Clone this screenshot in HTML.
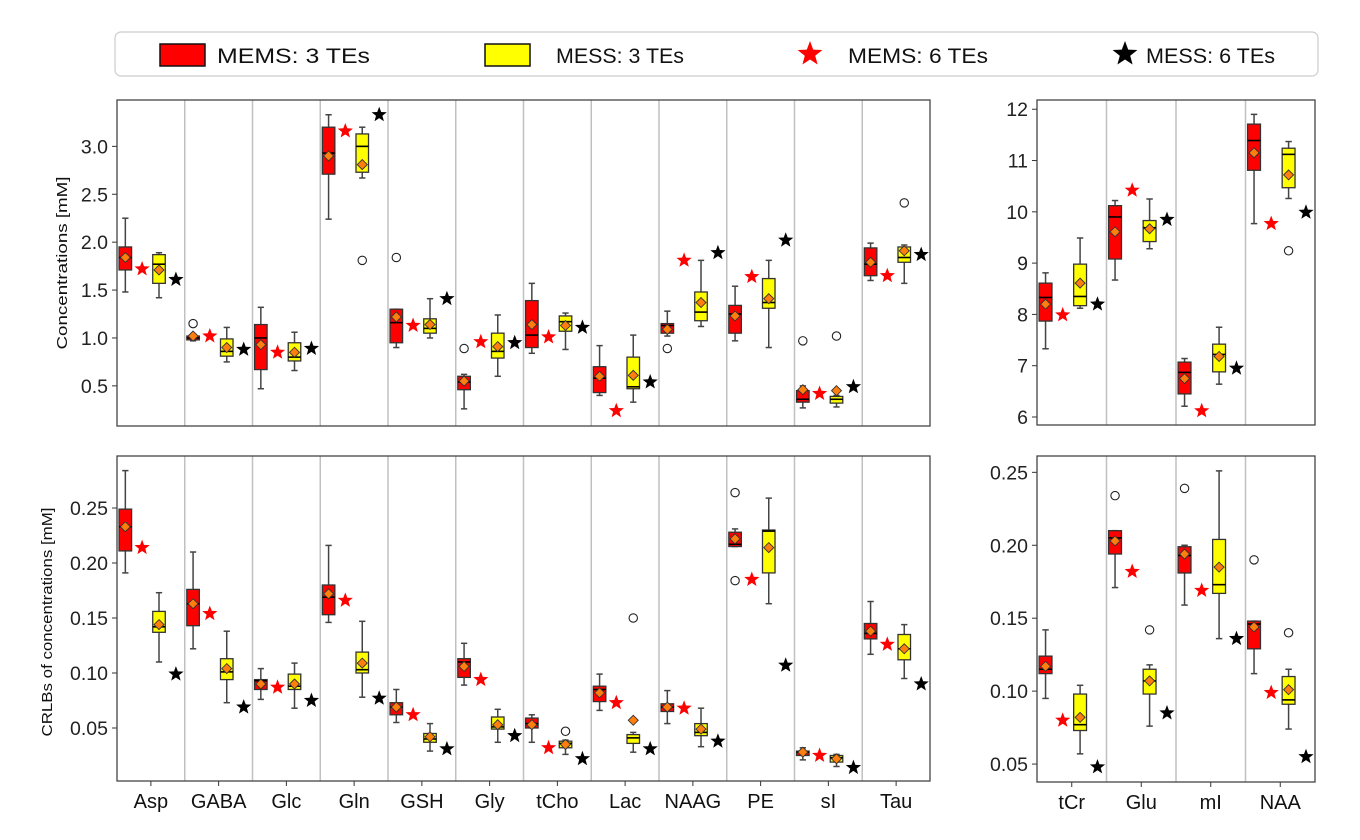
<!DOCTYPE html>
<html><head><meta charset="utf-8"><style>
html,body{margin:0;padding:0;background:#fff;}
svg{display:block;font-family:"Liberation Sans",sans-serif;}
</style></head><body>
<svg id="chart" width="1360" height="840" viewBox="0 0 1360 840" xmlns="http://www.w3.org/2000/svg">
<g id="legend">
<rect x="115" y="32" width="1203" height="44" rx="6" fill="#fff" stroke="#ccc" stroke-width="1.2"/>
<g><rect x="160" y="44" width="45" height="22" fill="#f00" stroke="#111" stroke-width="1.5"/><text x="217" y="63" font-size="21" textLength="153" lengthAdjust="spacingAndGlyphs" fill="#111">MEMS: 3 TEs</text></g>
<g><rect x="485" y="44" width="45" height="22" fill="#ff0" stroke="#111" stroke-width="1.5"/><text x="556" y="63" font-size="21" textLength="128" lengthAdjust="spacingAndGlyphs" fill="#111">MESS: 3 TEs</text></g>
<g id="lgs1"><text x="848" y="63" font-size="21" textLength="140" lengthAdjust="spacingAndGlyphs" fill="#111">MEMS: 6 TEs</text></g>
<g id="lgs2"><text x="1146" y="63" font-size="21" textLength="129" lengthAdjust="spacingAndGlyphs" fill="#111">MESS: 6 TEs</text></g>
</g>
<text transform="translate(67,263) rotate(-90)" text-anchor="middle" font-size="15" textLength="173" lengthAdjust="spacingAndGlyphs" fill="#111">Concentrations [mM]</text>
<text transform="translate(52,622) rotate(-90)" text-anchor="middle" font-size="15" textLength="229" lengthAdjust="spacingAndGlyphs" fill="#111">CRLBs of concentrations [mM]</text>
</svg>
<script>
// ---- data: [whiskerLow, q1, median, q3, whiskerHigh, mean]
const leftCats=["Asp","GABA","Glc","Gln","GSH","Gly","tCho","Lac","NAAG","PE","sI","Tau"];
const rightCats=["tCr","Glu","mI","NAA"];

const concLeftMems=[[1.48,1.71,1.84,1.95,2.25,1.84],[0.97,0.98,1.0,1.02,1.03,1.02],[0.47,0.67,1.0,1.14,1.32,0.93],[2.24,2.71,2.93,3.20,3.33,2.90],[0.90,0.95,1.16,1.30,1.30,1.22],[0.26,0.46,0.54,0.60,0.62,0.55],[0.84,0.90,1.03,1.39,1.57,1.14],[0.40,0.43,0.58,0.70,0.92,0.60],[1.02,1.05,1.13,1.15,1.28,1.09],[0.97,1.05,1.25,1.34,1.54,1.23],[0.27,0.33,0.36,0.45,0.50,0.46],[1.60,1.65,1.77,1.94,1.99,1.79]];
const concLeftMemsOut=[[],[1.15],[],[],[1.84],[0.89],[],[],[0.89],[],[0.97],[]];
const concLeftMess=[[1.42,1.57,1.77,1.87,1.89,1.71],[0.75,0.81,0.86,0.99,1.11,0.90],[0.66,0.76,0.80,0.95,1.06,0.85],[2.67,2.73,3.00,3.13,3.20,2.81],[1.0,1.05,1.10,1.20,1.41,1.14],[0.60,0.79,0.86,1.05,1.24,0.91],[0.88,1.07,1.17,1.23,1.26,1.13],[0.33,0.47,0.49,0.80,1.03,0.61],[1.12,1.18,1.27,1.48,1.81,1.37],[0.90,1.31,1.37,1.62,1.81,1.41],[0.28,0.32,0.36,0.39,0.40,0.45],[1.57,1.79,1.84,1.95,1.97,1.91]];
const concLeftMessOut=[[],[],[],[1.81],[],[],[],[],[],[],[1.02],[2.41]];
const concLeftMems6=[1.72,1.02,0.85,3.16,1.13,0.96,1.01,0.24,1.81,1.64,0.42,1.65];
const concLeftMess6=[1.61,0.88,0.89,3.33,1.41,0.95,1.11,0.54,1.89,2.02,0.49,1.87];
const concLeftTicks=[0.5,1.0,1.5,2.0,2.5,3.0];

const crlbLeftMems=[[0.191,0.211,0.233,0.249,0.284,0.233],[0.122,0.143,0.163,0.176,0.210,0.163],[0.076,0.085,0.093,0.094,0.104,0.090],[0.146,0.153,0.169,0.180,0.216,0.172],[0.055,0.062,0.069,0.073,0.085,0.069],[0.089,0.096,0.110,0.113,0.127,0.106],[0.037,0.050,0.054,0.059,0.062,0.053],[0.066,0.074,0.085,0.088,0.099,0.082],[0.054,0.065,0.069,0.072,0.084,0.069],[0.215,0.215,0.217,0.228,0.231,0.222],[0.021,0.025,0.028,0.029,0.032,0.028],[0.117,0.131,0.136,0.145,0.165,0.138]];
const crlbLeftMemsOut=[[],[],[],[],[],[],[],[],[],[0.264,0.184],[],[]];
const crlbLeftMess=[[0.110,0.137,0.142,0.156,0.173,0.144],[0.073,0.094,0.101,0.113,0.138,0.104],[0.068,0.085,0.088,0.099,0.109,0.090],[0.078,0.100,0.103,0.119,0.147,0.109],[0.029,0.037,0.040,0.045,0.054,0.042],[0.037,0.049,0.051,0.060,0.067,0.053],[0.026,0.032,0.036,0.038,0.039,0.035],[0.028,0.036,0.041,0.044,0.046,0.057],[0.033,0.043,0.046,0.054,0.068,0.049],[0.163,0.191,0.229,0.230,0.259,0.214],[0.015,0.019,0.023,0.025,0.026,0.022],[0.095,0.112,0.122,0.135,0.144,0.122]];
const crlbLeftMessOut=[[],[],[],[],[],[],[0.047],[0.150],[],[],[],[]];
const crlbLeftMems6=[0.214,0.154,0.087,0.166,0.062,0.094,0.032,0.073,0.068,0.185,0.025,0.126];
const crlbLeftMess6=[0.099,0.069,0.075,0.077,0.031,0.043,0.022,0.031,0.038,0.107,0.014,0.090];
const crlbLeftTicks=[0.05,0.10,0.15,0.20,0.25];

const concRightMems=[[7.33,7.87,8.33,8.61,8.81,8.20],[8.67,9.08,9.90,10.12,10.22,9.61],[6.21,6.45,6.87,7.07,7.14,6.75],[9.77,10.81,11.39,11.71,11.90,11.15]];
const concRightMemsOut=[[],[],[],[]];
const concRightMess=[[8.12,8.17,8.35,8.98,9.49,8.61],[9.28,9.42,9.69,9.83,10.25,9.67],[6.64,6.88,7.22,7.42,7.75,7.18],[10.26,10.47,11.12,11.24,11.37,10.72]];
const concRightMessOut=[[],[],[],[9.24]];
const concRightMems6=[7.99,10.42,6.12,9.77];
const concRightMess6=[8.20,9.85,6.95,9.99];
const concRightTicks=[6,7,8,9,10,11,12];

const crlbRightMems=[[0.095,0.112,0.115,0.124,0.142,0.117],[0.171,0.194,0.205,0.210,0.210,0.203],[0.159,0.181,0.193,0.199,0.200,0.194],[0.112,0.129,0.146,0.148,0.148,0.144]];
const crlbRightMemsOut=[[],[0.234],[0.239],[0.190]];
const crlbRightMess=[[0.057,0.073,0.077,0.098,0.104,0.082],[0.076,0.098,0.107,0.115,0.118,0.107],[0.136,0.167,0.173,0.204,0.251,0.185],[0.074,0.091,0.094,0.110,0.115,0.101]];
const crlbRightMessOut=[[],[0.142],[],[0.140]];
const crlbRightMems6=[0.080,0.182,0.169,0.099];
const crlbRightMess6=[0.048,0.085,0.136,0.055];
const crlbRightTicks=[0.05,0.10,0.15,0.20,0.25];

const NS="http://www.w3.org/2000/svg";
const svg=document.getElementById('chart');
function mk(tag,attrs,parent){const e=document.createElementNS(NS,tag);for(const k in attrs)e.setAttribute(k,attrs[k]);(parent||svg).appendChild(e);return e;}
function starPts(cx,cy,R){const r=R*0.42;let p=[];for(let i=0;i<10;i++){const a=-Math.PI/2+i*Math.PI/5;const rr=i%2?r:R;p.push((cx+rr*Math.cos(a)).toFixed(1)+','+(cy+rr*Math.sin(a)).toFixed(1));}return p.join(' ');}

let ls1=mk('polygon',{points:starPts(810,54,13),fill:'#f00'},document.getElementById('lgs1'));


let ls2=mk('polygon',{points:starPts(1125,54,13),fill:'#000'},document.getElementById('lgs2'));



function panel(name,cfg){
  const g=mk('g',{});
  
  
  const {x0,x1,y0,y1,vmin,vmax,cats,mems,memsOut,mess,messOut,mems6,mess6,ticks,fmt,showX}=cfg;
  const yS=v=>y1-(v-vmin)/(vmax-vmin)*(y1-y0);
  const gw=(x1-x0)/cats.length;
  for(let i=1;i<cats.length;i++){const d=mk('line',{x1:x0+i*gw,x2:x0+i*gw,y1:y0,y2:y1,stroke:'#c0c0c0','stroke-width':1.5},g);
    
    }
  ticks.forEach(t=>{const y=yS(t);mk('line',{x1:x0-5,x2:x0,y1:y,y2:y,stroke:'#333'},g);
    const tx=mk('text',{x:x0-9,y:y+7,'text-anchor':'end','font-size':19.5,fill:'#222'},g);tx.textContent=fmt(t);
    
    });
  const bw=gw*0.185;
  function box(cx,s,color,outs,label){
    const bg=mk('g',{},g);
    
    
    const [lo,q1,md,q3,hi,mn]=s;
    mk('line',{x1:cx,x2:cx,y1:yS(hi),y2:yS(q3),stroke:'#444','stroke-width':1.5},bg);
    mk('line',{x1:cx,x2:cx,y1:yS(q1),y2:yS(lo),stroke:'#444','stroke-width':1.5},bg);
    mk('line',{x1:cx-bw/4,x2:cx+bw/4,y1:yS(hi),y2:yS(hi),stroke:'#444','stroke-width':1.5},bg);
    mk('line',{x1:cx-bw/4,x2:cx+bw/4,y1:yS(lo),y2:yS(lo),stroke:'#444','stroke-width':1.5},bg);
    mk('rect',{x:cx-bw/2,y:yS(q3),width:bw,height:Math.max(1,yS(q1)-yS(q3)),fill:color,stroke:'#333','stroke-width':1.3},bg);
    mk('line',{x1:cx-bw/2,x2:cx+bw/2,y1:yS(md),y2:yS(md),stroke:'#000','stroke-width':1.6},bg);
    const m=yS(mn),d=5;
    mk('polygon',{points:`${cx},${m-d} ${cx+d},${m} ${cx},${m+d} ${cx-d},${m}`,fill:'#ff7f0e',stroke:'#333','stroke-width':0.9},bg);
    outs.forEach(o=>mk('circle',{cx:cx,cy:yS(o),r:4.2,fill:'none',stroke:'#222','stroke-width':1.1},bg));
  }
  cats.forEach((c,i)=>{
    const gx=x0+i*gw;
    box(gx+gw*0.123,mems[i],'#f00',memsOut[i],'box-mems-'+c);
    box(gx+gw*0.62,mess[i],'#ff0',messOut[i],'box-mess-'+c);
    const s1=mk('polygon',{points:starPts(gx+gw*0.37,yS(mems6[i]),8),fill:'#f00'},g);
    
    
    const s2=mk('polygon',{points:starPts(gx+gw*0.87,yS(mess6[i]),8),fill:'#000'},g);
    
    
    if(showX){const cx=gx+gw/2;mk('line',{x1:cx,x2:cx,y1:y1,y2:y1+5,stroke:'#333'},g);
      const t=mk('text',{x:cx,y:y1+27,'text-anchor':'middle','font-size':20,fill:'#111'},g);t.textContent=c;
      
      }
  });
  const fr=mk('rect',{x:x0,y:y0,width:x1-x0,height:y1-y0,fill:'none',stroke:'#444','stroke-width':1.3},g);
  
  
}
const f1=t=>t.toFixed(1),f2=t=>t.toFixed(2),f0=t=>String(t);
panel('concentration-panel-left',{x0:117,x1:930,y0:100,y1:426,vmin:0.081,vmax:3.484,cats:leftCats,mems:concLeftMems,memsOut:concLeftMemsOut,mess:concLeftMess,messOut:concLeftMessOut,mems6:concLeftMems6,mess6:concLeftMess6,ticks:concLeftTicks,fmt:f1,showX:false});
panel('crlb-panel-left',{x0:117,x1:930,y0:456,y1:781,vmin:0.0018,vmax:0.2973,cats:leftCats,mems:crlbLeftMems,memsOut:crlbLeftMemsOut,mess:crlbLeftMess,messOut:crlbLeftMessOut,mems6:crlbLeftMems6,mess6:crlbLeftMess6,ticks:crlbLeftTicks,fmt:f2,showX:true});
panel('concentration-panel-right',{x0:1037,x1:1315,y0:100,y1:425,vmin:5.844,vmax:12.18,cats:rightCats,mems:concRightMems,memsOut:concRightMemsOut,mess:concRightMess,messOut:concRightMessOut,mems6:concRightMems6,mess6:concRightMess6,ticks:concRightTicks,fmt:f0,showX:false});
panel('crlb-panel-right',{x0:1037,x1:1315,y0:456,y1:782,vmin:0.0377,vmax:0.2612,cats:rightCats,mems:crlbRightMems,memsOut:crlbRightMemsOut,mess:crlbRightMess,messOut:crlbRightMessOut,mems6:crlbRightMems6,mess6:crlbRightMess6,ticks:crlbRightTicks,fmt:f2,showX:true});
</script>
</body></html>
